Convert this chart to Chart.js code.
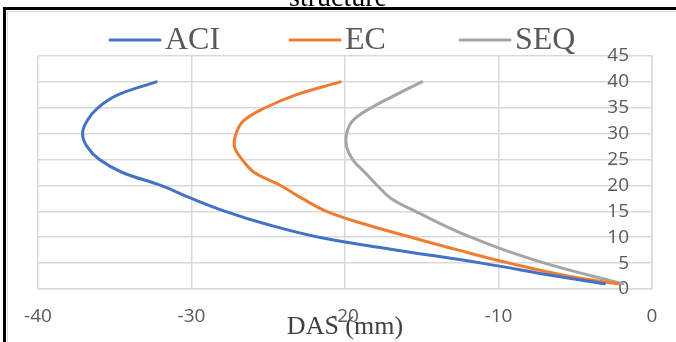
<!DOCTYPE html>
<html>
<head>
<meta charset="utf-8">
<script src="https://cdn.jsdelivr.net/npm/chart.js@4"></script>
<style>
  html, body { margin: 0; padding: 0; background: #fff; }
  #wrap { width: 676px; height: 342px; position: relative; }
</style>
</head>
<body>
<div id="wrap"><canvas id="dasChart" width="676" height="342"></canvas></div>
<script>
// depth (vertical axis) and DAS values
const depth = [1, 2.5, 5, 7.5, 10, 12.5, 15, 17.5, 20, 22.5, 25, 27.5, 30, 32.5, 35, 37.5, 40];
const aciDas = [-3.1, -6.3, -11.1, -16.6, -21.7, -25.1, -27.8, -30.0, -32.0, -34.5, -36.0, -36.8, -37.1, -36.8, -36.1, -34.8, -32.3];
const ecDas = [-2.2, -5.5, -9.3, -12.6, -15.7, -18.7, -21.2, -22.8, -24.2, -25.9, -26.7, -27.2, -27.1, -26.6, -25.2, -23.2, -20.3];
const seqDas = [-1.9, -3.9, -7.0, -9.6, -11.8, -13.7, -15.4, -17.0, -17.9, -18.7, -19.5, -19.9, -19.9, -19.5, -18.3, -16.7, -15.0];
const seriesNames = ['ACI', 'EC', 'SEQ'];
const seriesColors = ['#4472C4', '#ED7D31', '#A5A5A5'];
const xTicks = [-40, -30, -20, -10, 0];
const yTicks = [0, 5, 10, 15, 20, 25, 30, 35, 40, 45];

const toPoints = vals => vals.map((v, i) => ({ x: v, y: depth[i] }));

// frame, cut-off caption and legend drawn around the plot
const framePlugin = {
    id: 'frame',
    beforeDraw(chart) {
        const ctx = chart.ctx;
        ctx.save();
        ctx.fillStyle = '#fff';
        ctx.fillRect(0, 0, chart.width, chart.height);
        ctx.fillStyle = '#000';
        ctx.font = '28px "Liberation Serif"';
        ctx.textAlign = 'center';
        ctx.textBaseline = 'alphabetic';
        ctx.fillText('structure', 338, 6);
        ctx.strokeStyle = '#000';
        ctx.lineWidth = 3;
        ctx.beginPath();
        ctx.moveTo(4.5, chart.height + 2);
        ctx.lineTo(4.5, 8.5);
        ctx.lineTo(chart.width + 2, 8.5);
        ctx.stroke();
        ctx.strokeStyle = '#d9d9d9';
        ctx.lineWidth = 1;
        ctx.beginPath();
        ctx.moveTo(7.5, chart.height + 2);
        ctx.lineTo(7.5, 11.5);
        ctx.lineTo(chart.width + 2, 11.5);
        ctx.stroke();
        ctx.restore();
    },
    afterDraw(chart) {
        const ctx = chart.ctx;
        const starts = [110, 290, 460];
        ctx.save();
        ctx.font = '32px "Liberation Serif"';
        ctx.textBaseline = 'middle';
        ctx.textAlign = 'left';
        chart.data.datasets.forEach((ds, i) => {
            const x = starts[i];
            const y = 40;
            ctx.strokeStyle = ds.borderColor;
            ctx.lineWidth = 3;
            ctx.lineCap = 'round';
            ctx.beginPath();
            ctx.moveTo(x, y);
            ctx.lineTo(x + 50, y);
            ctx.stroke();
            ctx.fillStyle = '#595959';
            ctx.fillText(ds.label, x + 55, y + 1);
        });
        ctx.restore();
    }
};

const dasCtx = document.getElementById('dasChart').getContext('2d');
const dasChart = new Chart(dasCtx, {
    type: 'scatter',
    data: {
        datasets: [
            { label: seriesNames[0], data: toPoints(aciDas), borderColor: seriesColors[0], backgroundColor: seriesColors[0] },
            { label: seriesNames[1], data: toPoints(ecDas), borderColor: seriesColors[1], backgroundColor: seriesColors[1] },
            { label: seriesNames[2], data: toPoints(seqDas), borderColor: seriesColors[2], backgroundColor: seriesColors[2] }
        ].map(ds => Object.assign(ds, {
            showLine: true,
            borderWidth: 3,
            pointRadius: 0,
            tension: 0.4,
            borderCapStyle: 'round'
        }))
    },
    options: {
        responsive: false,
        animation: false,
        layout: {
            padding: { left: 38, right: 24, top: 56, bottom: 0 }
        },
        scales: {
            x: {
                type: 'linear',
                min: xTicks[0],
                max: xTicks[xTicks.length - 1],
                afterBuildTicks: s => { s.ticks = xTicks.map(v => ({ value: v })); },
                afterFit: s => { s.height = 53; },
                grid: { color: '#d9d9d9', lineWidth: 1.5, drawTicks: false },
                border: { display: true, color: '#d9d9d9', width: 1.5 },
                ticks: {
                    padding: 16,
                    color: '#595959',
                    font: { family: '"Open Sans"', size: 19 }
                },
                title: {
                    display: true,
                    text: 'DAS (mm)',
                    color: '#404040',
                    font: { family: '"Liberation Serif"', size: 26, lineHeight: 1 },
                    padding: { top: 0, bottom: 2 }
                }
            },
            y: {
                type: 'linear',
                position: 'right',
                min: yTicks[0],
                max: yTicks[yTicks.length - 1],
                afterBuildTicks: s => { s.ticks = yTicks.map(v => ({ value: v })); },
                afterFit: s => { s.width = 0; },
                grid: { color: '#d9d9d9', lineWidth: 1.5, drawTicks: false },
                border: { display: true, color: '#d9d9d9', width: 1.5 },
                ticks: {
                    mirror: true,
                    padding: -23,
                    color: '#595959',
                    font: { family: '"Open Sans"', size: 19 }
                }
            }
        },
        plugins: {
            legend: { display: false },
            title: { display: false },
            tooltip: { enabled: false }
        }
    },
    plugins: [framePlugin]
});
</script>
</body>
</html>
